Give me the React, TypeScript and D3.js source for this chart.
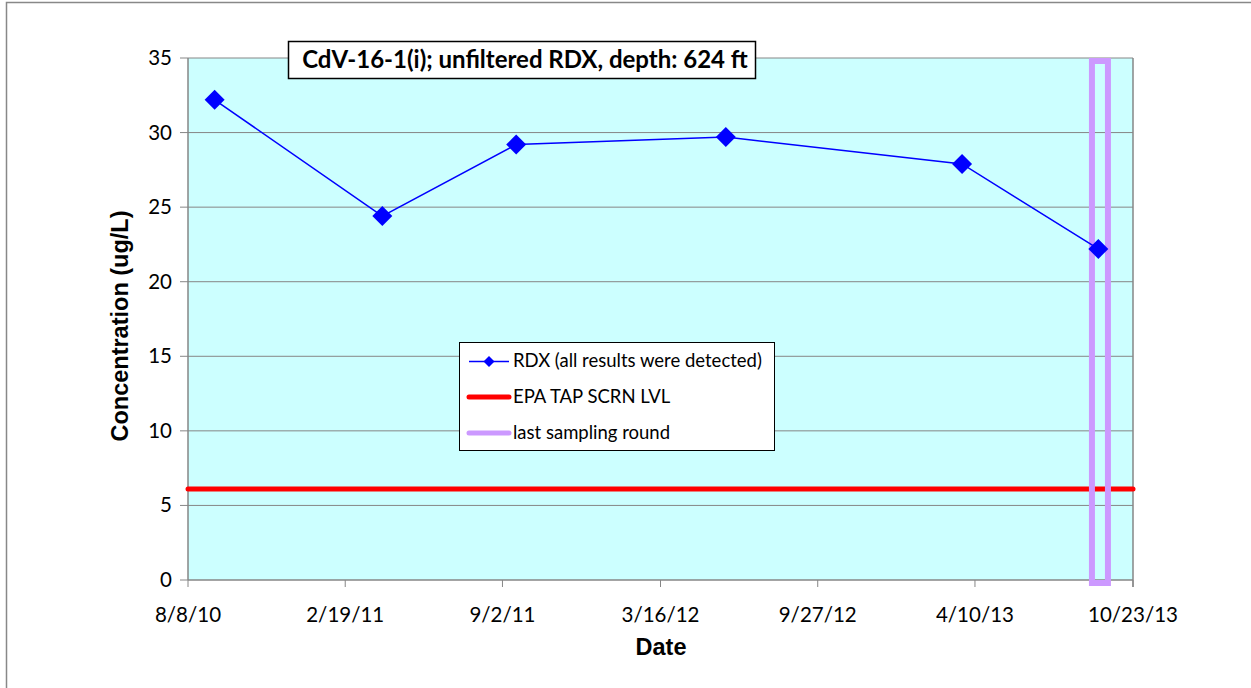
import React from "react";
import * as d3 from "d3";

const sampleDates = ["2010-09-10", "2011-04-06", "2011-09-19", "2012-06-05", "2013-03-25", "2013-09-10"];
const rdxValues = [32.2, 24.4, 29.2, 29.7, 27.9, 22.2];
const epaLevel = 6.1;
const lastRoundDate = "2013-09-12";
const xTickLabels = ["8/8/10", "2/19/11", "9/2/11", "3/16/12", "9/27/12", "4/10/13", "10/23/13"];
const yTicks = [0, 5, 10, 15, 20, 25, 30, 35];
const legendLabels = ["RDX (all results were detected)", "EPA TAP SCRN LVL", "last sampling round"];
const titleText = "CdV-16-1(i); unfiltered RDX, depth: 624 ft";

const parse = (s: string) => new Date(s + "T00:00:00");
const parseTick = (s: string) => {
  const [m, d, y] = s.split("/").map(Number);
  return new Date(2000 + y, m - 1, d);
};

export default function App() {
  const W = 1251, H = 688;
  const left = 188, right = 1133, top = 58, bottom = 580;
  const tickDates = xTickLabels.map(parseTick);
  const x = d3.scaleTime().domain([tickDates[0], tickDates[tickDates.length - 1]]).range([left, right]);
  const y = d3.scaleLinear().domain([0, 35]).range([bottom, top]);
  const pts = sampleDates.map((d, i) => [x(parse(d)), y(rdxValues[i])] as [number, number]);
  const line = d3.line();
  const font = "Lato, 'Open Sans', sans-serif";
  const arial = "'Liberation Sans', Arial, sans-serif";
  const lx = x(parse(lastRoundDate));
  const diamond = (cx: number, cy: number, r: number) => `M${cx},${cy - r}L${cx + r},${cy}L${cx},${cy + r}L${cx - r},${cy}Z`;

  return (
    <svg width={W} height={H} style={{ position: "absolute", left: 0, top: 0 }}>
      <rect x={0} y={0} width={W} height={H} fill="#fff" />
      <rect x={6.5} y={2.5} width={W + 10} height={H + 10} fill="none" stroke="#888" strokeWidth={1.5} />
      <rect x={left} y={top} width={right - left} height={bottom - top} fill="#CCFFFF" />
      {yTicks.map((t) => (
        <g key={t}>
          {t > 0 && <line x1={left} x2={right} y1={y(t)} y2={y(t)} stroke="#868686" strokeWidth={1} />}
          <line x1={180} x2={left} y1={y(t)} y2={y(t)} stroke="#868686" strokeWidth={1} />
          <text x={172} y={y(t) + 7} textAnchor="end" fontFamily={font} fontSize={20.5} fill="#000">{t}</text>
        </g>
      ))}
      <line x1={left} x2={left} y1={top} y2={bottom} stroke="#868686" strokeWidth={1.5} />
      <line x1={right} x2={right} y1={top} y2={bottom + 7} stroke="#868686" strokeWidth={1.5} />
      <line x1={left} x2={right} y1={bottom} y2={bottom} stroke="#868686" strokeWidth={1.5} />
      {tickDates.map((d, i) => (
        <g key={i}>
          <line x1={x(d)} x2={x(d)} y1={bottom} y2={bottom + 7} stroke="#868686" strokeWidth={1} />
          <text x={x(d)} y={622} textAnchor="middle" fontFamily={font} fontSize={20.5} fill="#000">{xTickLabels[i]}</text>
        </g>
      ))}
      <line x1={left} x2={right} y1={y(epaLevel)} y2={y(epaLevel)} stroke="#FF0000" strokeWidth={5} strokeLinecap="round" />
      <rect x={lx - 8} y={y(35) + 3} width={16} height={y(0) - y(35)} fill="none" stroke="#CC99FF" strokeWidth={6} />
      <path d={line(pts) || ""} fill="none" stroke="#0000FF" strokeWidth={1.5} />
      {pts.map((p, i) => (
        <path key={i} d={diamond(p[0], p[1], 10)} fill="#0000FF" />
      ))}
      <rect x={288.5} y={41.5} width={467} height={37} fill="#fff" stroke="#000" strokeWidth={1.5} />
      <text x={525} y={68} textAnchor="middle" fontFamily={font} fontWeight="bold" fontSize={24} fill="#000">{titleText}</text>
      <rect x={459.5} y={342.5} width={315} height={108} fill="#fff" stroke="#000" strokeWidth={1} />
      <line x1={469} x2={509} y1={361.5} y2={361.5} stroke="#0000FF" strokeWidth={1.5} />
      <path d={diamond(489, 361.5, 5.5)} fill="#0000FF" />
      <line x1={469} x2={509} y1={397} y2={397} stroke="#FF0000" strokeWidth={5} strokeLinecap="round" />
      <line x1={469} x2={509} y1={433} y2={433} stroke="#CC99FF" strokeWidth={5} strokeLinecap="round" />
      {legendLabels.map((l, i) => (
        <text key={i} x={513} y={367 + i * 36} fontFamily={font} fontSize={18.5} fill="#000">{l}</text>
      ))}
      <text x={661} y={655} textAnchor="middle" fontFamily={arial} fontWeight="bold" fontSize={23.5} fill="#000">Date</text>
      <text transform={`translate(128,326) rotate(-90)`} textAnchor="middle" fontFamily={arial} fontWeight="bold" fontSize={23.5} fill="#000">Concentration (ug/L)</text>
    </svg>
  );
}
